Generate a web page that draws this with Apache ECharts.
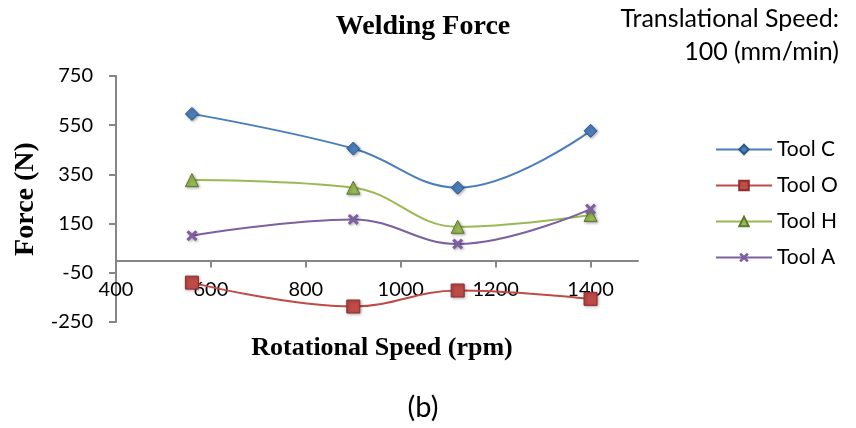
<!DOCTYPE html>
<html>
<head>
<meta charset="utf-8">
<script src="https://cdn.jsdelivr.net/npm/echarts@6/dist/echarts.min.js"></script>
<style>
 html, body { margin: 0; padding: 0; background: #fff; }
 #chart { width: 856px; height: 428px; }
</style>
</head>
<body>
<div id="chart"></div>
<script>
// values
var rpm = [560, 900, 1120, 1400];
var toolC = [596, 455, 296, 527];
var toolO = [-90, -187, -122, -156];
var toolH = [327, 296, 137, 185];
var toolA = [101, 167, 67, 209];
var xTicks = [400, 600, 800, 1000, 1200, 1400];

var names = ['Tool C', 'Tool O', 'Tool H', 'Tool A'];
var colors = ['#4A7EBB', '#BE4B48', '#98B954', '#7D60A0'];
var borders = ['#2C5A8C', '#8C2E2C', '#5E7A2E', '#7D60A0'];
var symbols = ['diamond', 'rect', 'triangle',
  'path://M2,0 L5,3 L8,0 L10,2 L7,5 L10,8 L8,10 L5,7 L2,10 L0,8 L3,5 L0,2 Z'];
var values = [toolC, toolO, toolH, toolA];

function pairs(v) {
  return rpm.map(function (x, i) { return [x, v[i]]; });
}

var axisGrey = '#868686';
var sans = 'Lato';
var serif = 'Liberation Serif';

var chart = echarts.init(document.getElementById('chart'));

var option = {
  animation: false,
  backgroundColor: '#fff',
  title: [
    { text: 'Welding Force', left: 418, top: 8, textAlign: 'center',
      textStyle: { fontFamily: serif, fontWeight: 'bold', fontSize: 28, color: '#000' } },
    { text: 'Translational Speed:', right: 17, top: 6, padding: 0,
      textStyle: { fontFamily: sans, fontWeight: 'normal', fontSize: 25, color: '#000' } },
    { text: '100 (mm/min)', right: 17, top: 39, padding: 0,
      textStyle: { fontFamily: sans, fontWeight: 'normal', fontSize: 25, color: '#000' } },
    { text: 'Rotational Speed (rpm)', left: 377, top: 330, textAlign: 'center',
      textStyle: { fontFamily: serif, fontWeight: 'bold', fontSize: 26, color: '#000' } },
    { text: '(b)', left: 418, top: 388, textAlign: 'center',
      textStyle: { fontFamily: sans, fontWeight: 'normal', fontSize: 29, color: '#000' } }
  ],
  legend: {
    orient: 'vertical',
    left: 715,
    top: 139,
    padding: 0,
    itemWidth: 56,
    itemHeight: 12,
    itemGap: 15,
    data: names,
    textStyle: { fontFamily: sans, fontSize: 21, color: '#000' }
  },
  grid: { left: 116, right: 218, top: 76, bottom: 106 },
  xAxis: {
    type: 'value',
    min: 400,
    max: 1500,
    interval: 200,
    axisLine: { onZero: true, lineStyle: { color: axisGrey, width: 2 } },
    axisTick: { show: true, length: 7, customValues: xTicks, lineStyle: { color: axisGrey, width: 2 } },
    axisLabel: {
      margin: -42, customValues: xTicks, fontFamily: sans, fontSize: 20, color: '#000',
      formatter: function (v) { return String(v); }
    },
    splitLine: { show: false }
  },
  yAxis: {
    type: 'value',
    min: -250,
    max: 750,
    interval: 200,
    name: 'Force (N)',
    nameLocation: 'middle',
    nameGap: 74,
    nameTextStyle: { fontFamily: serif, fontWeight: 'bold', fontSize: 28, color: '#000' },
    axisLine: { show: true, onZero: false, lineStyle: { color: axisGrey, width: 2 } },
    axisTick: { show: true, length: 7, lineStyle: { color: axisGrey, width: 2 } },
    axisLabel: { margin: 23, fontFamily: sans, fontSize: 20, color: '#000' },
    splitLine: { show: false }
  },
  series: names.map(function (n, i) {
    return {
      name: n,
      type: 'line',
      smooth: 0.4,
      data: pairs(values[i]),
      symbol: symbols[i],
      symbolSize: i === 3 ? 11 : 13,
      itemStyle: {
        color: colors[i], borderColor: borders[i], borderWidth: i === 3 ? 0 : 1,
        shadowColor: 'rgba(0,0,0,0.35)', shadowBlur: 3, shadowOffsetX: 1, shadowOffsetY: 1
      },
      lineStyle: { color: colors[i], width: 2, shadowBlur: 0 },
      z: 2 + i
    };
  })
};

chart.setOption(option);
</script>
</body>
</html>
